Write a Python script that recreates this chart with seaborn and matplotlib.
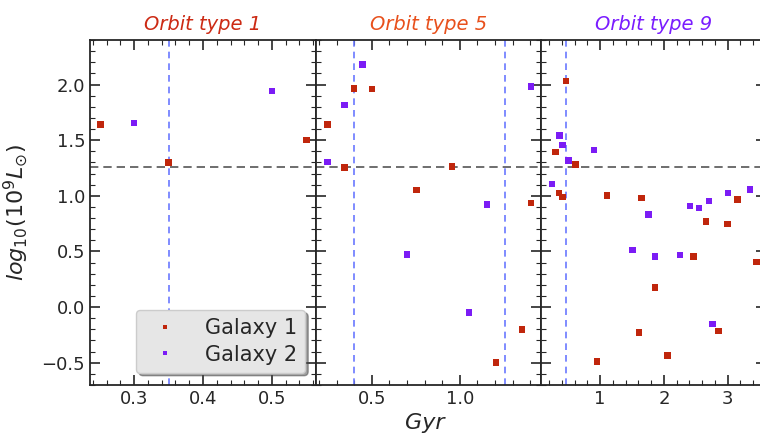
import numpy as np
import pandas as pd
import seaborn as sns
import matplotlib.pyplot as plt
from matplotlib.ticker import AutoMinorLocator, MultipleLocator

# Orbit type 1
o1_g1_x = [0.251, 0.35, 0.55]
o1_g1_y = [1.643, 1.30, 1.50]
o1_g2_x = [0.300, 0.50]
o1_g2_y = [1.656, 1.943]

# Orbit type 5
o5_g1_x = [0.40, 0.50, 0.249, 0.345, 0.955, 0.753, 1.406, 1.355, 1.206]
o5_g1_y = [1.964, 1.958, 1.643, 1.254, 1.263, 1.05, 0.937, -0.20, -0.50]
o5_g2_x = [0.447, 0.345, 0.249, 1.155, 1.405, 0.70, 1.053]
o5_g2_y = [2.18, 1.817, 1.305, 0.922, 1.982, 0.473, -0.047]

# Orbit type 9
o9_g1_x = [0.464, 0.303, 0.61, 0.355, 0.413, 1.105, 1.652, 3.151, 2.656, 2.999,
           2.464, 3.448, 1.859, 2.854, 1.61, 2.053, 0.953]
o9_g1_y = [2.03, 1.395, 1.281, 1.027, 0.99, 1.003, 0.98, 0.967, 0.769, 0.745,
           0.455, 0.407, 0.176, -0.216, -0.228, -0.435, -0.49]
o9_g2_x = [0.36, 0.406, 0.906, 0.506, 0.245, 1.76, 2.406, 2.553, 2.703, 3.006,
           3.35, 1.505, 1.859, 2.25, 2.76]
o9_g2_y = [1.54, 1.458, 1.413, 1.315, 1.104, 0.832, 0.907, 0.889, 0.955, 1.027,
           1.057, 0.515, 0.455, 0.47, -0.15]

titles = ["Orbit type 1", "Orbit type 5", "Orbit type 9"]
title_colors = ["#cc2a14", "#e8501c", "#7a1cff"]
vlines = [[0.35], [0.40, 1.255], [0.464]]
hline_y = 1.263
xlims = [(0.236, 0.564), (0.183, 1.462), (0.073, 3.60)]
xmajor = [0.1, 0.5, 1.0]

galaxy_colors = {"Galaxy 1": "#c0260c", "Galaxy 2": "#7b1cf5"}

panels = [
    (o1_g1_x, o1_g1_y, o1_g2_x, o1_g2_y),
    (o5_g1_x, o5_g1_y, o5_g2_x, o5_g2_y),
    (o9_g1_x, o9_g1_y, o9_g2_x, o9_g2_y),
]

sns.set_style("ticks")
plt.rcParams['font.family'] = ['DejaVu Sans']

fig = plt.figure(figsize=(7.6, 4.44), dpi=100)
W, H = 760, 444
edges = [90, 316, 541, 766]
bottom, top = 385, 40

axes = []
for i, (g1x, g1y, g2x, g2y) in enumerate(panels):
    ax = fig.add_axes([edges[i] / W, 1 - bottom / H,
                       (edges[i + 1] - edges[i]) / W, (bottom - top) / H])
    axes.append(ax)
    df = pd.DataFrame({
        "x": list(g1x) + list(g2x),
        "y": list(g1y) + list(g2y),
        "galaxy": ["Galaxy 1"] * len(g1x) + ["Galaxy 2"] * len(g2x),
    })
    sns.scatterplot(data=df, x="x", y="y", hue="galaxy", palette=galaxy_colors,
                    marker="s", s=22, linewidth=0, ax=ax, legend=(i == 0), zorder=3)
    ax.axhline(hline_y, color="#555555", linestyle=(0, (5, 3)), linewidth=1.2, zorder=2)
    for v in vlines[i]:
        ax.axvline(v, color="#6a78ff", linestyle=(0, (4, 3)), linewidth=1.2, zorder=2)
    ax.set_xlim(*xlims[i])
    ax.set_ylim(-0.70, 2.40)
    ax.xaxis.set_major_locator(MultipleLocator(xmajor[i]))
    ax.xaxis.set_minor_locator(AutoMinorLocator(5))
    ax.yaxis.set_major_locator(MultipleLocator(0.5))
    ax.yaxis.set_minor_locator(AutoMinorLocator(5))
    ax.tick_params(which="both", direction="in", top=True, right=True, labelsize=13)
    ax.tick_params(which="major", length=7, width=1.2)
    ax.tick_params(which="minor", length=3.5, width=0.8)
    for s in ax.spines.values():
        s.set_linewidth(1.3)
    ax.set_xlabel("")
    ax.set_ylabel("")
    ax.set_title(titles[i], color=title_colors[i], style="italic", fontsize=14, pad=7)
    if i > 0:
        ax.tick_params(labelleft=False)

axes[0].set_ylabel(r"$log_{10}(10^9 L_{\odot})$", fontsize=16, labelpad=8)
leg = axes[0].legend(loc="lower right", fontsize=15, frameon=True, fancybox=True,
                     shadow=True, facecolor="#e6e6e6", edgecolor="#cccccc",
                     markerscale=0.7, handletextpad=0.9, borderpad=0.4,
                     labelspacing=0.3, borderaxespad=0,
                     bbox_to_anchor=(0.953, 0.035))
leg.get_frame().set_alpha(1.0)
fig.text(425 / W, 1 - 423 / H, "Gyr", fontsize=16, style="italic",
         ha="center", va="center")

fig.savefig("out.png", dpi=100)
